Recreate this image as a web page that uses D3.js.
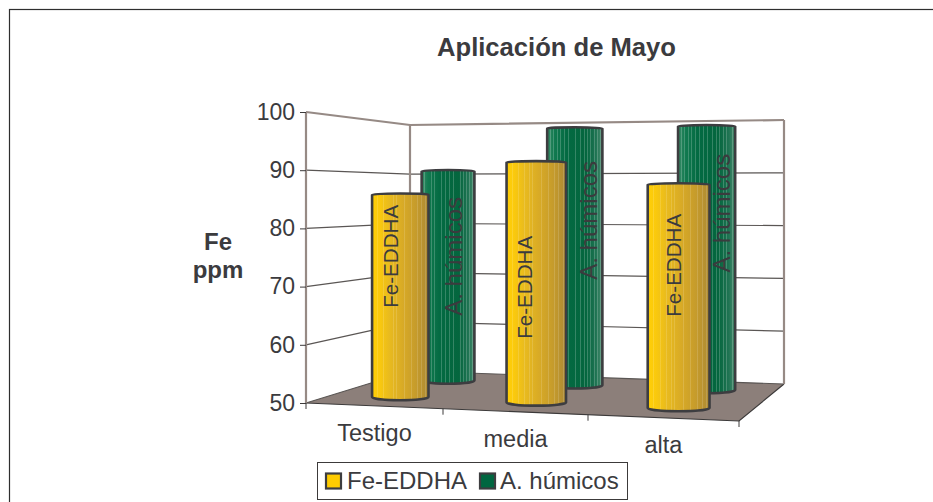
<!DOCTYPE html>
<html><head><meta charset="utf-8">
<script src="https://cdn.jsdelivr.net/npm/d3@7"></script>
<style>html,body{margin:0;padding:0;background:#fff}svg{display:block}text{font-family:"Liberation Sans",Arial,sans-serif;fill:#3b3b3e}</style>
</head><body><div id="chart"></div>
<script>
const categories=["Testigo","media","alta"];
const seriesNames=["Fe-EDDHA","A. húmicos"];
const feEddha=[85.9,91.7,88];
const acidosHumicos=[90.4,98.4,98.6];
const yTicks=[50,60,70,80,90,100];
const title="Aplicación de Mayo";
const yTitle=["Fe","ppm"];

const W=933,H=502;
const svg=d3.select("#chart").append("svg").attr("width",W).attr("height",H);
const defs=svg.append("defs");
function grad(id,stops){
  const g=defs.append("linearGradient").attr("id",id).attr("x1",0).attr("x2",1).attr("y1",0).attr("y2",0);
  stops.forEach(s=>g.append("stop").attr("offset",s[0]).attr("stop-color",s[1]).attr("stop-opacity",s[2]===undefined?1:s[2]));
}
grad("gFe",[[0,"#ffcf06"],[.12,"#fbca0c"],[.3,"#e9bb1e"],[.55,"#d8aa26"],[.8,"#c49a2c"],[1,"#ad8a34"]]);
grad("gHu",[[0,"#3a8c68"],[.12,"#127a50"],[.35,"#036a42"],[.7,"#04663e"],[.88,"#1e7352"],[1,"#468a6c"]]);
// fine rasterised vertical banding seen on the cylinders
function stripes(id,centres,alpha){
  const stops=[[0,"#fff",0]];
  centres.forEach(c=>{
    stops.push([c-.008,"#fff",0],[c-.008,"#fff",alpha],[c+.008,"#fff",alpha],[c+.008,"#fff",0]);
  });
  stops.push([1,"#fff",0]);
  grad(id,stops);
}
stripes("sFe",[.1,.2,.3,.38,.44,.58,.7,.8,.88,.95],.14);
stripes("sHu",[.06,.12,.18,.24,.31,.38,.45,.52,.6,.67,.73,.79,.85,.91,.96],.2);
const colors=["url(#gFe)","url(#gHu)"];
const overlay=["url(#sFe)","url(#sHu)"];
const swatch=["#ffcc00","#006640"];

// projection of the 3-D box
const fx=d3.scaleLinear().domain([0,1,2,3]).range([306,443,588,739]);
const bx=d3.scaleLinear().domain([0,1,2,3]).range([410,530,655,784]);
const fFloor=d3.scaleLinear().domain([306,739]).range([403,421]);
const fTop=d3.scaleLinear().domain([306,739]).range([112,111]);
const bFloor=d3.scaleLinear().domain([410,784]).range([371,384]);
const bTop=d3.scaleLinear().domain([410,784]).range([125,120]);
const val=(a,b,v)=>d3.scaleLinear().domain([50,100]).range([a,b])(v);
function P(c,d,v){
  const xf=fx(c),xb=bx(c);
  const yf=val(fFloor(xf),fTop(xf),v), yb=val(bFloor(xb),bTop(xb),v);
  return [xf+(xb-xf)*d, yf+(yb-yf)*d];
}
const yFront=d3.scaleLinear().domain([50,100]).range([403,112]);

// frame (runs past the right and bottom of the picture)
svg.append("rect").attr("x",9.5).attr("y",9.5).attr("width",W+20).attr("height",H).attr("fill","#fff").attr("stroke","#2e2e2e").attr("stroke-width",1.2);

// title
svg.append("text").attr("x",556.5).attr("y",56).attr("text-anchor","middle").attr("font-size",25.6).attr("font-weight","bold").text(title);

// floor
const floor=[P(0,0,50),P(3,0,50),P(3,1,50),P(0,1,50)];
svg.append("polygon").attr("points",floor.join(" ")).attr("fill","#8c7f7a");
svg.append("path").attr("d",d3.line()([P(0,0,50),P(3,0,50),P(3,1,50)])).attr("fill","none").attr("stroke","#3c3a3a").attr("stroke-width",1.2);

// walls
const wall="#968a85";
yTicks.forEach(t=>{
  const pts=[P(0,0,t),P(0,1,t),P(3,1,t)];
  svg.append("path").attr("d",d3.line()(pts)).attr("fill","none")
    .attr("stroke",t===100?wall:"#5a5654").attr("stroke-width",t===100?2.2:1.2);
});
[[0,0],[0,1],[3,1]].forEach(([c,d])=>{
  svg.append("path").attr("d",d3.line()([P(c,d,50),P(c,d,100)])).attr("stroke",wall).attr("stroke-width",2.2).attr("fill","none");
});

// y ticks and labels
const ax=svg.append("g").attr("transform","translate(306,0)").call(d3.axisLeft(yFront).tickValues(yTicks).tickSize(6).tickPadding(5).tickFormat(d3.format("d")));
ax.select(".domain").remove();
ax.selectAll("line").attr("stroke","#3c3a3a");
ax.selectAll("text").attr("font-size",23).attr("font-family",null).style("fill","#3b3b3e");

// x ticks and labels
d3.range(0,4).forEach(c=>{
  const p=P(c,0,50);
  svg.append("line").attr("x1",p[0]).attr("x2",p[0]).attr("y1",p[1]).attr("y2",p[1]+6).attr("stroke","#3c3a3a");
});
categories.forEach((n,c)=>{
  const p=P(c+.5,0,50);
  svg.append("text").attr("x",p[0]).attr("y",p[1]+35).attr("text-anchor","middle").attr("font-size",23.5).text(n);
});

// bars
const depth=[.27,.77], halfBand=.213, labelSize=[20.6,24];
// manually dragged data labels: offset from each cylinder's centre
const labelDx=[[-2,-4.5,2.5],[13.5,22.5,23]];
const labelDy=[[-39.5,5,-31],[-19.5,-36.5,-45]];
function cyl(g,c,d,v,fill,over){
  const [xl]=P(c+.5-halfBand,d,50), [xr]=P(c+.5+halfBand,d,50);
  const yb=P(c+.5,d,50)[1], yt=P(c+.5,d,v)[1];
  const rx=(xr-xl)/2;
  const path=`M${xl},${yt}L${xl},${yb}A${rx},3.2 0 0 0 ${xr},${yb}L${xr},${yt}A${rx},1.2 0 0 0 ${xl},${yt}Z`;
  g.append("path").attr("d",path).attr("fill",over);
  g.insert("path",":last-child").attr("d",path).attr("fill",fill);
  g.append("path").attr("d",path).attr("fill","none").attr("stroke","#3d3d40").attr("stroke-width",2.6);
  return {cx:(xl+xr)/2,yt,yb};
}
const bars=svg.append("g"), labels=svg.append("g");
[[1,acidosHumicos],[0,feEddha]].forEach(([s,vals])=>{
  vals.forEach((v,c)=>{
    const b=cyl(bars,c,depth[s],v,colors[s],overlay[s]);
    labels.append("text").attr("transform",`translate(${b.cx+labelDx[s][c]-(s?0:0)},${(b.yt+b.yb)/2+labelDy[s][c]}) rotate(-90)`)
      .attr("text-anchor","middle").attr("font-size",labelSize[s]).text(seriesNames[s]);
  });
});

// y title
yTitle.forEach((t,i)=>svg.append("text").attr("x",218).attr("y",250+i*28).attr("text-anchor","middle").attr("font-size",24).attr("font-weight","bold").text(t));

// legend
svg.append("rect").attr("x",317.5).attr("y",462.5).attr("width",310).attr("height",37).attr("fill","#fff").attr("stroke","#3c3a3a");
const lx=[326,480], tx=[347,500];
seriesNames.forEach((n,i)=>{
  svg.append("rect").attr("x",lx[i]).attr("y",473.5).attr("width",15).attr("height",15).attr("fill",swatch[i]).attr("stroke","#3d3d40").attr("stroke-width",2.2);
  svg.append("text").attr("x",tx[i]).attr("y",489).attr("font-size",24).text(n);
});
</script></body></html>
